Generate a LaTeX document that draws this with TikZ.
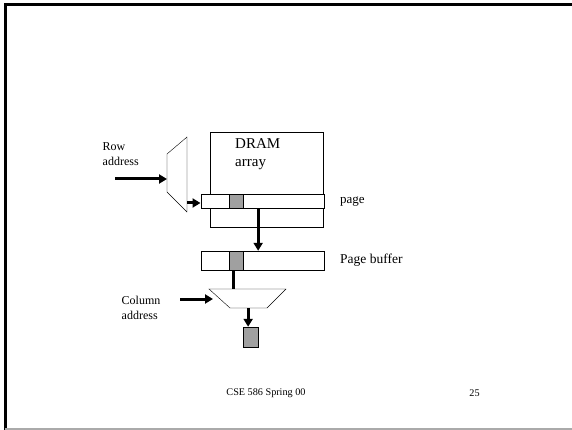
\documentclass[tikz,border=0pt]{standalone}
\usepackage{fontspec}
\setmainfont{Liberation Serif}
\usepackage{tikz}
\usetikzlibrary{arrows.meta, positioning, calc}
\definecolor{cellgrey}{RGB}{160, 160, 160}
\definecolor{framegrey}{RGB}{170, 170, 170}

\begin{document}
\begin{tikzpicture}[x=1pt, y=-1pt,
    bar/.style={rectangle, draw=black, fill=white, inner sep=0pt, minimum height=14pt, minimum width=123.3pt},
    cell/.style={rectangle, draw=black, fill=cellgrey, inner sep=0pt, minimum width=14pt},
    arrow/.style={-{Triangle[length=8pt, width=9pt]}, line width=3pt},
    line/.style={line width=3pt},
    lbl/.style={font=\fontsize{12}{15}\selectfont, align=left, inner sep=0pt}
]
\useasboundingbox (0,0) rectangle (572,430);

% Slide frame
\draw[line width=2.5pt] (5.3,430) -- (5.3,4.7) -- (572,4.7);
\draw[framegrey, line width=1.5pt] (5.3,429) -- (572,429);

% DRAM array
\node (DRAM) [rectangle, draw=black, fill=white, inner sep=0pt, minimum width=113pt, minimum height=95pt] at (266.5,179.5) {};
\node (DRAMTXT) [anchor=north west, inner sep=0pt, align=left, font=\fontsize{15}{18}\selectfont] at (235,138) {DRAM\\array};

% Page row and buffer
\node (PAGE)   [bar] at (262.35,201) {};
\node (PCELL)  [cell, minimum height=14pt] at (236,201) {};
\node (BUF)    [bar, minimum height=19pt] at (262.35,260.5) {};
\node (BCELL)  [cell, minimum height=19pt] at (236,260.5) {};
\node (OUT)    [cell, minimum width=15pt, minimum height=20pt] at (250.5,337) {};

% Row decoder
\coordinate (RD1) at (167,154);
\coordinate (RD2) at (187,137);
\coordinate (RD3) at (187,212);
\coordinate (RD4) at (167,192);
\draw (RD1) -- (RD2) -- (RD3) -- (RD4) -- cycle;

% Column decoder
\coordinate (CD1) at (209,289);
\coordinate (CD2) at (286,289);
\coordinate (CD3) at (267,308);
\coordinate (CD4) at (230,308);
\draw (CD1) -- (CD2) -- (CD3) -- (CD4) -- cycle;

% Labels
\node (ROWLBL) [lbl, anchor=west] at (102.5,154.5) {Row\\address};
\node (COLLBL) [lbl, anchor=west] at (121.5,308) {Column\\address};
\node (PAGELBL) [lbl, anchor=west, font=\fontsize{13}{15}\selectfont] at (340,201.5) {page};
\node (BUFLBL) [lbl, anchor=west, font=\fontsize{13.5}{15}\selectfont] at (340,260) {Page buffer};

% Arrows
\coordinate (ROWIN) at (115,179);
\coordinate (COLIN) at (180,299);
\coordinate (DECOUT) at (187,203);
\coordinate (PTAP) at ($(PAGE.south west)!0.466!(PAGE.south east)$);
\coordinate (BTAP) at ($(BCELL.south)+(-3,0)$);
\coordinate (CTAP) at ($(CD4)!0.49!(CD3)$);
\draw [arrow] (ROWIN) -- (ROWIN -| RD1);
\draw [arrow] (DECOUT) -- (DECOUT -| PAGE.west);
\draw [arrow] (PTAP) -- (PTAP |- BUF.north);
\draw [line] (BTAP) -- (BTAP |- CD1);
\draw [arrow] (COLIN) -- ++(33,0);
\draw [arrow] (CTAP) -- (CTAP |- OUT.north);

% Footer
\node (FOOT) [font=\fontsize{10.2}{12}\selectfont, inner sep=0pt] at (266,393) {CSE 586 Spring 00};
\node (NUM)  [font=\fontsize{10.2}{12}\selectfont, inner sep=0pt] at (474.5,393) {25};

\end{tikzpicture}
\end{document}
